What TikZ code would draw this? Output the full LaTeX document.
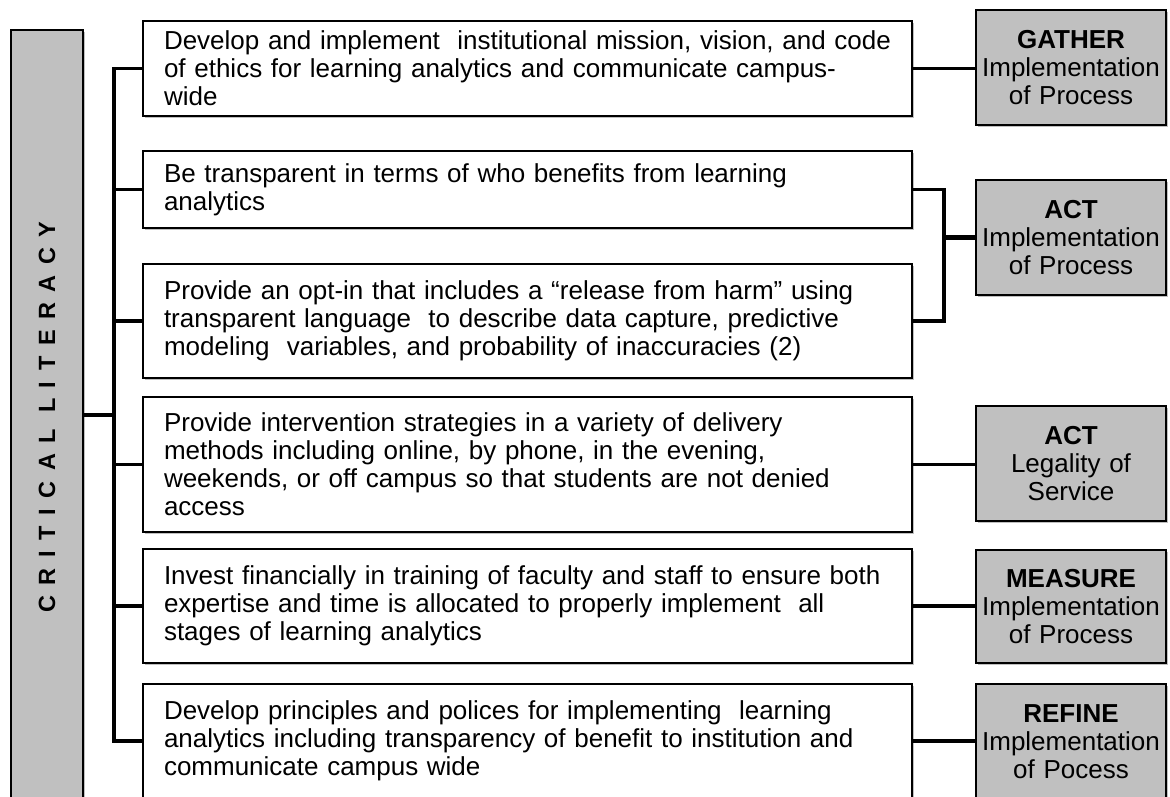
\documentclass[tikz,border=0pt]{standalone}
\usepackage{fontspec}
\setmainfont{Liberation Sans}
\newfontfamily\spacedfont[LetterSpace=45]{Liberation Sans}
\usetikzlibrary{shadows}
\definecolor{panelgray}{RGB}{192,192,192}
\tikzset{
  boxshadow/.style={drop shadow={shadow xshift=2pt, shadow yshift=-2pt, opacity=0.25, fill=black}},
  itembox/.style={draw=black, line width=2pt, fill=white, boxshadow,
    minimum width=769pt, text width=727pt, inner xsep=21pt, align=left,
    font=\fontsize{26}{28}\selectfont},
  phasebox/.style={draw=black, line width=2pt, fill=panelgray, boxshadow,
    minimum width=190pt, text width=188pt, inner xsep=1pt, align=center,
    font=\fontsize{26}{28}\selectfont},
  sidebar/.style={draw=black, line width=2pt, fill=panelgray, boxshadow,
    minimum width=72pt, minimum height=800pt, anchor=north},
  conn/.style={line width=3.5pt, draw=black},
  thickconn/.style={line width=5.5pt, draw=black}
}
\begin{document}
\begin{tikzpicture}[x=1pt,y=-1pt]
\useasboundingbox (0,0) rectangle (1170,797);
\clip (0,0) rectangle (1170,797);

% left column
\node[sidebar] (cl) at (47,29) {};
\node[rotate=90, font=\spacedfont\bfseries\fontsize{23.5}{26}\selectfont] (cltext) at (47,417)
  {CRITICAL\hspace{16pt}LITERACY};

% recommendation boxes
\node[itembox, minimum height=95pt] (b1) at (527.5,68.5)
  {Develop and implement\ \ institutional mission, vision, and code\\of ethics for learning analytics and communicate campus-\\wide};
\node[itembox, minimum height=77pt] (b2) at (527.5,189.5)
  {Be transparent in terms of who benefits from learning\\analytics};
\node[itembox, minimum height=114pt] (b3) at (527.5,321)
  {Provide an opt-in that includes a “release from harm” using\\transparent language\ \ to describe data capture, predictive\\modeling\ \ variables, and probability of inaccuracies (2)};
\node[itembox, minimum height=135pt] (b4) at (527.5,464.5)
  {Provide intervention strategies in a variety of delivery\\methods including online, by phone, in the evening,\\weekends, or off campus so that students are not denied\\access};
\node[itembox, minimum height=114pt] (b5) at (527.5,606)
  {Invest financially in training of faculty and staff to ensure both\\expertise and time is allocated to properly implement\ \ all\\stages of learning analytics};
\node[itembox, minimum height=114pt] (b6) at (527.5,741)
  {Develop principles and polices for implementing\ \ learning\\analytics including transparency of benefit to institution and\\communicate campus wide};

% phase boxes
\node[phasebox, minimum height=115pt] (g1) at (1071,67.5)
  {\textbf{GATHER}\\Implementation\\of Process};
\node[phasebox, minimum height=115pt] (g2) at (1071,237.5)
  {\textbf{ACT}\\Implementation\\of Process};
\node[phasebox, minimum height=115pt] (g3) at (1071,463.5)
  {\textbf{ACT}\\Legality of\\Service};
\node[phasebox, minimum height=113pt] (g4) at (1071,606.5)
  {\textbf{MEASURE}\\Implementation\\of Process};
\node[phasebox, minimum height=115pt] (g5) at (1071,741.5)
  {\textbf{REFINE}\\Implementation\\of Pocess};

% left tree
\coordinate (hub) at (114,415);
\draw[conn] (cl.east |- hub) -- (hub);
\draw[conn] (b1.west) -| (hub |- b6.west) -- (b6.west);
\foreach \b in {b2,b3,b4,b5} \draw[conn] (hub |- \b.west) -- (\b.west);

% right links
\coordinate (fork) at (944,237.5);
\draw[conn] (b1.east) -- (b1.east -| g1.west);
\draw[conn] (b2.east) -| (fork |- b3.east) -- (b3.east);
\draw[thickconn] (fork) -- (g2.west);
\draw[conn] (b4.east) -- (b4.east -| g3.west);
\draw[conn] (b5.east) -- (b5.east -| g4.west);
\draw[conn] (b6.east) -- (b6.east -| g5.west);
\end{tikzpicture}
\end{document}
